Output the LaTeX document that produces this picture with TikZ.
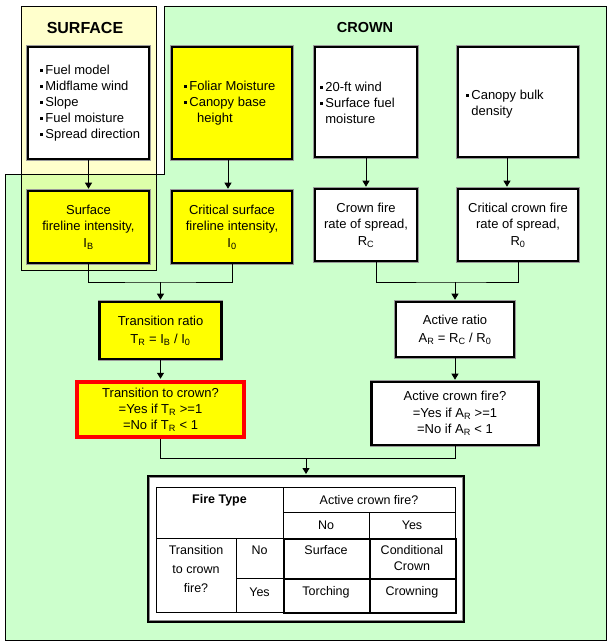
\documentclass[tikz,border=0pt]{standalone}
\usepackage{fontspec}
\setmainfont{Liberation Sans}
\usetikzlibrary{arrows.meta}
\definecolor{pgreen}{RGB}{204,255,204}
\definecolor{pyellow}{RGB}{255,255,204}
\definecolor{povl}{RGB}{221,255,170}
\definecolor{byellow}{RGB}{255,255,0}
\newcommand\blt{\rule[2.8pt]{2.6pt}{2.6pt}\hspace{2.6pt}}
\begin{document}
\begin{tikzpicture}[x=1pt,y=-1pt,
  panel/.style={draw=black, line width=0.8pt},
  bx/.style={draw=black, line width=2.6pt, preaction={draw=black!40, line width=3.8pt}, inner sep=0pt, font=\fontsize{13}{16.5}\selectfont, align=center},
  ybx/.style={bx, fill=byellow},
  wbx/.style={bx, fill=white},
  rbx/.style={draw=red, line width=4.5pt, fill=byellow, inner sep=0pt, font=\fontsize{13}{16}\selectfont, align=center},
  lbl/.style={inner sep=0pt, font=\fontsize{13}{16}\selectfont, align=left, anchor=west},
  arr/.style={line width=0.9pt, shorten >=1pt, -{Triangle[width=7pt,length=6pt]}},
  ln/.style={line width=0.9pt},
  cell/.style={draw=black, line width=0.8pt, inner sep=0pt, anchor=north west},
  tcell/.style={draw=black, line width=2.4pt, inner sep=0pt, anchor=north west},
  ttxt/.style={inner sep=0pt, font=\fontsize{12.5}{17}\selectfont, align=center},
]
\useasboundingbox (0,0) rectangle (609,642);
% panels
\path[fill=pgreen] (164,6) -- (606,6) -- (606,640) -- (5,640) -- (5,174) -- (164,174) -- cycle;
\path[fill=pyellow] (21,6) rectangle (156,270);
\path[fill=povl] (21,174) rectangle (156,270);
\draw[panel] (164,6) -- (606,6) -- (606,640) -- (5,640) -- (5,174) -- (164,174) -- cycle;
\draw[panel] (21,6) rectangle (156,270);
% headings
\node[inner sep=0pt, font=\fontsize{16}{18}\selectfont\bfseries] (hs) at (85,28) {SURFACE};
\node[inner sep=0pt, font=\fontsize{14.5}{16}\selectfont\bfseries] (hc) at (365,28) {CROWN};
% top row
\node[wbx, minimum width=121pt, minimum height=112pt] (B1) at (88.5,103) {};
\node[ybx, minimum width=120pt, minimum height=112pt] (B2) at (232,103) {};
\node[wbx, minimum width=102pt, minimum height=110pt] (B3) at (366,102) {};
\node[wbx, minimum width=120pt, minimum height=110pt] (B4) at (518,102) {};
\node[lbl] (t1) at (40,103) {\blt Fuel model\\\blt Midflame wind\\\blt Slope\\\blt Fuel moisture\\\blt Spread direction};
\node[lbl] (t2) at (184,103) {\blt Foliar Moisture\\\blt Canopy base\\\hspace*{13pt}height};
\node[lbl] (t3) at (320,103) {\blt 20-ft wind\\\blt Surface fuel\\\hphantom{\blt}moisture};
\node[lbl] (t4) at (466,104) {\blt Canopy bulk\\\hphantom{\blt}density};
% second row
\node[ybx, minimum width=121pt, minimum height=72pt] (B5) at (88.5,227) {Surface\\fireline intensity,\\I\textsubscript{B}};
\node[ybx, minimum width=120pt, minimum height=72pt] (B6) at (232,227) {Critical surface\\fireline intensity,\\I\textsubscript{0}};
\node[wbx, minimum width=102pt, minimum height=72pt] (B7) at (366,225) {Crown fire\\rate of spread,\\R\textsubscript{C}};
\node[wbx, minimum width=120pt, minimum height=72pt] (B8) at (518,225) {Critical crown fire\\rate of spread,\\R\textsubscript{0}};
% ratios
\node[ybx, minimum width=122pt, minimum height=57pt, font=\fontsize{13}{18}\selectfont] (TR) at (160.5,330.5) {Transition ratio\\T\textsubscript{R} = I\textsubscript{B} / I\textsubscript{0}};
\node[rbx, minimum width=167pt, minimum height=55pt] (TC) at (160.5,409.5) {Transition to crown?\\=Yes if T\textsubscript{R} >=1\\=No if T\textsubscript{R} < 1};
\node[wbx, minimum width=118pt, minimum height=55pt, font=\fontsize{13}{18}\selectfont] (AR) at (455,329.5) {Active ratio\\A\textsubscript{R} = R\textsubscript{C} / R\textsubscript{0}};
\node[wbx, minimum width=167pt, minimum height=63pt] (AC) at (455,413.5) {Active crown fire?\\=Yes if A\textsubscript{R} >=1\\=No if A\textsubscript{R} < 1};
% connectors
\draw[arr] (B1.south) -- (B5.north);
\draw[arr] ([xshift=-4pt]B2.south) -- ([xshift=-4pt]B6.north);
\draw[arr] (B3.south) -- (B7.north);
\draw[arr] ([xshift=-11pt]B4.south) -- ([xshift=-11pt]B8.north);
\coordinate (j1) at (160.5,282);
\coordinate (j2) at (455,282);
\coordinate (j3) at (306,458);
\draw[ln] (B5.south) |- (j1) -| (B6.south);
\draw[ln] ([xshift=10pt]B7.south) |- (j2) -| (B8.south);
\draw[arr] (j1) -- (TR.north);
\draw[arr] (j2) -- (AR.north);
\draw[arr] (TR.south) -- (TC.north);
\draw[arr] (AR.south) -- (AC.north);
\draw[ln] (TC.south) |- (j3);
\draw[ln] (AC.south) |- (j3);
% table frame
\node[draw=black, line width=3pt, fill=white, inner sep=0pt, minimum width=315pt, minimum height=145pt] (T) at (306,549) {};
\draw[arr] (j3) -- (T.north);
\draw[black!45, line width=1.5pt] ([shift={(2.3,2.3)}]T.north west) rectangle ([shift={(-2.3,-2.3)}]T.south east);
% table cells
\node[cell, minimum width=127pt, minimum height=51pt] (hft) at (156,487) {};
\node[cell, minimum width=172pt, minimum height=25pt] (hacf) at (283,487) {};
\node[cell, minimum width=86pt, minimum height=26pt] (hno) at (283,512) {};
\node[cell, minimum width=86pt, minimum height=26pt] (hyes) at (369,512) {};
\node[cell, minimum width=80pt, minimum height=74pt] (rtc) at (156,538) {};
\node[cell, minimum width=47pt, minimum height=40pt] (rno) at (236,538) {};
\node[cell, minimum width=47pt, minimum height=34pt] (ryes) at (236,578) {};
\node[tcell, minimum width=86pt, minimum height=40pt] (csurf) at (283,538) {};
\node[tcell, minimum width=86pt, minimum height=40pt] (ccond) at (369,538) {};
\node[tcell, minimum width=86pt, minimum height=34pt] (ctorch) at (283,578) {};
\node[tcell, minimum width=86pt, minimum height=34pt] (ccrown) at (369,578) {};
% table texts
\node[ttxt, font=\fontsize{12.5}{17}\selectfont\bfseries] (xft) at (219.5,500) {Fire Type};
\node[ttxt] (xacf) at (369,500) {Active crown fire?};
\node[ttxt] (xno) at (326,525) {No};
\node[ttxt] (xyes) at (412,525) {Yes};
\node[ttxt, font=\fontsize{12.5}{19}\selectfont] (xtc) at (196,569) {Transition\\to crown\\fire?};
\node[ttxt] (xrno) at (259.5,550) {No};
\node[ttxt] (xryes) at (259.5,592) {Yes};
\node[ttxt] (xsurf) at (326,550) {Surface};
\node[ttxt, font=\fontsize{12.5}{16}\selectfont] (xcond) at (412,558.5) {Conditional\\Crown};
\node[ttxt] (xtorch) at (326,592) {Torching};
\node[ttxt] (xcrown) at (412,592) {Crowning};
\end{tikzpicture}
\end{document}
